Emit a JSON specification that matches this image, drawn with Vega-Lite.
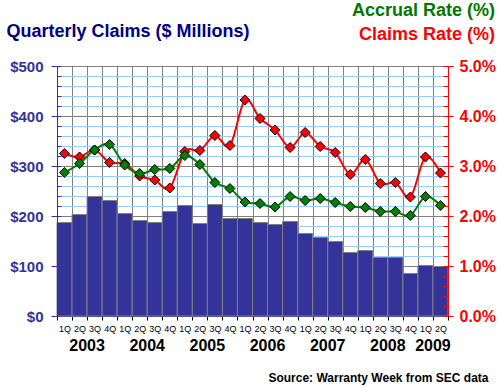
{
  "$schema": "https://vega.github.io/schema/vega-lite/v6.json",
  "width": 391,
  "height": 250,
  "autosize": {"type": "none"},
  "padding": {"left": 57, "top": 66, "right": 52, "bottom": 71},
  "background": "white",
  "config": {
    "font": "Liberation Sans",
    "view": {"stroke": null},
    "axis": {"labelFont": "Liberation Sans", "titleFont": "Liberation Sans"},
    "title": {"font": "Liberation Sans", "subtitleFont": "Liberation Sans"}
  },
  "title": {
    "text": "Accrual Rate (%)",
    "subtitle": "Claims Rate (%)",
    "anchor": "end",
    "frame": "group",
    "fontSize": 18,
    "fontWeight": "bold",
    "color": "#007700",
    "subtitleFontSize": 18,
    "subtitleFontWeight": "bold",
    "subtitleColor": "#FF0000",
    "dx": 47,
    "offset": -22,
    "subtitlePadding": 6
  },
  "data": {
    "values": [
      {"quarter": "2003 1Q", "claims": 187, "accrual": 2.87, "claimsRate": 3.25},
      {"quarter": "2003 2Q", "claims": 203, "accrual": 3.05, "claimsRate": 3.18},
      {"quarter": "2003 3Q", "claims": 239, "accrual": 3.32, "claimsRate": 3.32},
      {"quarter": "2003 4Q", "claims": 231, "accrual": 3.43, "claimsRate": 3.07},
      {"quarter": "2004 1Q", "claims": 205, "accrual": 3.02, "claimsRate": 3.05},
      {"quarter": "2004 2Q", "claims": 191, "accrual": 2.85, "claimsRate": 2.80},
      {"quarter": "2004 3Q", "claims": 187, "accrual": 2.93, "claimsRate": 2.72},
      {"quarter": "2004 4Q", "claims": 209, "accrual": 2.95, "claimsRate": 2.56},
      {"quarter": "2005 1Q", "claims": 221, "accrual": 3.21, "claimsRate": 3.29},
      {"quarter": "2005 2Q", "claims": 185, "accrual": 3.03, "claimsRate": 3.31},
      {"quarter": "2005 3Q", "claims": 223, "accrual": 2.67, "claimsRate": 3.61},
      {"quarter": "2005 4Q", "claims": 195, "accrual": 2.55, "claimsRate": 3.41},
      {"quarter": "2006 1Q", "claims": 195, "accrual": 2.28, "claimsRate": 4.32},
      {"quarter": "2006 2Q", "claims": 187, "accrual": 2.25, "claimsRate": 3.95},
      {"quarter": "2006 3Q", "claims": 183, "accrual": 2.18, "claimsRate": 3.72},
      {"quarter": "2006 4Q", "claims": 189, "accrual": 2.39, "claimsRate": 3.37},
      {"quarter": "2007 1Q", "claims": 165, "accrual": 2.31, "claimsRate": 3.67},
      {"quarter": "2007 2Q", "claims": 157, "accrual": 2.35, "claimsRate": 3.39},
      {"quarter": "2007 3Q", "claims": 149, "accrual": 2.27, "claimsRate": 3.27},
      {"quarter": "2007 4Q", "claims": 127, "accrual": 2.19, "claimsRate": 2.83},
      {"quarter": "2008 1Q", "claims": 131, "accrual": 2.17, "claimsRate": 3.13},
      {"quarter": "2008 2Q", "claims": 117, "accrual": 2.09, "claimsRate": 2.65},
      {"quarter": "2008 3Q", "claims": 117, "accrual": 2.09, "claimsRate": 2.67},
      {"quarter": "2008 4Q", "claims": 85, "accrual": 2.01, "claimsRate": 2.38},
      {"quarter": "2009 1Q", "claims": 101, "accrual": 2.39, "claimsRate": 3.18},
      {"quarter": "2009 2Q", "claims": 99, "accrual": 2.21, "claimsRate": 2.86}
    ]
  },
  "layer": [
    {
      "layer": [
        {
          "mark": {"type": "point", "opacity": 0},
          "encoding": {
            "x": {
              "field": "quarter", "type": "ordinal", "sort": null,
              "scale": {"type": "band", "paddingInner": 0, "paddingOuter": 0},
              "axis": {
                "title": null,
                "labelExpr": "isString(datum.value) ? substring(datum.value, 5) : ''",
                "labelAngle": 0, "labelFontSize": 9, "labelColor": "#000000", "labelPadding": 4,
                "labelOverlap": false,
                "tickBand": "extent", "tickSize": 4, "tickColor": "#000000",
                "domainColor": "#333399", "grid": true, "gridColor": "#808080", "gridWidth": 1,
                "zindex": 0
              }
            },
            "y": {
              "field": "claims", "type": "quantitative",
              "scale": {"domain": [0, 500], "nice": false},
              "axis": {
                "orient": "left", "title": null,
                "values": [0,20,40,60,80,100,120,140,160,180,200,220,240,260,280,300,320,340,360,380,400,420,440,460,480,500],
                "labels": false, "domain": false,
                "ticks": true, "tickSize": -4, "tickColor": "#333399",
                "grid": true,
                "gridColor": {"condition": {"test": "datum.value % 100 === 0", "value": "#808080"}, "value": "#99CCFF"},
                "zindex": 0
              }
            }
          }
        },
        {
          "mark": {"type": "bar", "color": "#333399", "stroke": "#808080", "strokeWidth": 1},
          "encoding": {
            "x": {"field": "quarter", "type": "ordinal", "sort": null},
            "y": {
              "field": "claims", "type": "quantitative",
              "axis": {
                "orient": "left",
                "values": [0, 100, 200, 300, 400, 500],
                "labelExpr": "'$' + datum.value",
                "labelOverlap": false, "labelFlush": false,
                "labelFontSize": 15, "labelFontWeight": "bold", "labelColor": "#333399", "labelPadding": 8,
                "tickColor": "#333399", "tickSize": 6,
                "domainColor": "#333399",
                "grid": false,
                "zindex": 1,
                "title": "Quarterly Claims ($ Millions)",
                "titleAngle": 0, "titleAlign": "left", "titleBaseline": "alphabetic",
                "titleX": -51, "titleY": -30,
                "titleFontSize": 18, "titleFontWeight": "bold", "titleColor": "#000080"
              }
            }
          }
        }
      ],
      "resolve": {"axis": {"y": "independent"}}
    },
    {
      "layer": [
        {
          "mark": {"type": "line", "color": "#FF0000", "strokeWidth": 2, "interpolate": "cardinal"},
          "encoding": {
            "x": {
              "field": "quarter", "type": "ordinal", "sort": null,
              "axis": {
                "orient": "bottom",
                "values": ["2003 2Q", "2004 2Q", "2005 2Q", "2006 2Q", "2007 2Q", "2008 2Q", "2009 1Q"],
                "labelOffset": 7.5,
                "labelExpr": "substring(datum.value, 0, 4)",
                "labelAngle": 0, "labelFontSize": 16, "labelFontWeight": "bold", "labelColor": "#000000",
                "labelOverlap": false,
                "labelPadding": 21, "ticks": false, "domain": false, "grid": false,
                "title": "Source: Warranty Week from SEC data",
                "titleX": 431, "titleY": 65, "titleAlign": "right", "titleBaseline": "alphabetic",
                "titleFontSize": 12, "titleFontWeight": "bold", "titleColor": "#000000"
              }
            },
            "y": {
              "field": "claimsRate", "type": "quantitative",
              "scale": {"domain": [0, 5], "nice": false},
              "axis": {
                "orient": "right", "title": null,
                "values": [0, 1, 2, 3, 4, 5],
                "labelExpr": "format(datum.value, '.1f') + '%'",
                "labelOverlap": false, "labelFlush": false,
                "labelFontSize": 16, "labelFontWeight": "bold", "labelColor": "#FF0000", "labelPadding": 6,
                "tickColor": "#FF0000", "tickSize": 5,
                "domainColor": "#FF0000", "grid": false, "zindex": 1
              }
            }
          }
        },
        {
          "mark": {"type": "point", "shape": "diamond", "filled": true, "fill": "#FF0000", "stroke": "#000000", "strokeWidth": 1, "size": 100, "opacity": 1},
          "encoding": {
            "x": {"field": "quarter", "type": "ordinal", "sort": null},
            "y": {
              "field": "claimsRate", "type": "quantitative",
              "axis": {
                "orient": "right", "title": null,
                "values": [0,0.2,0.4,0.6,0.8,1,1.2,1.4,1.6,1.8,2,2.2,2.4,2.6,2.8,3,3.2,3.4,3.6,3.8,4,4.2,4.4,4.6,4.8,5],
                "labels": false, "domain": false, "grid": false,
                "ticks": true, "tickSize": -5, "tickColor": "#FF0000",
                "zindex": 1
              }
            }
          }
        },
        {
          "mark": {"type": "line", "color": "#008000", "strokeWidth": 2, "interpolate": "cardinal"},
          "encoding": {
            "x": {"field": "quarter", "type": "ordinal", "sort": null},
            "y": {"field": "accrual", "type": "quantitative", "axis": null}
          }
        },
        {
          "mark": {"type": "point", "shape": "diamond", "filled": true, "fill": "#008000", "stroke": "#000000", "strokeWidth": 1, "size": 100, "opacity": 1},
          "encoding": {
            "x": {"field": "quarter", "type": "ordinal", "sort": null},
            "y": {"field": "accrual", "type": "quantitative", "axis": null}
          }
        }
      ],
      "resolve": {"axis": {"y": "independent"}}
    }
  ],
  "resolve": {"scale": {"y": "independent"}, "axis": {"x": "independent", "y": "independent"}}
}
